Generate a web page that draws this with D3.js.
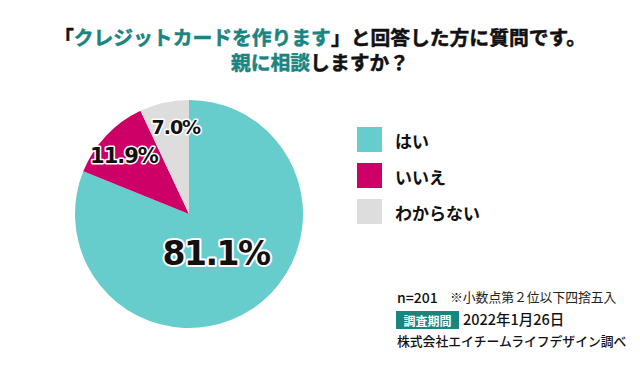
<!DOCTYPE html>
<html>
<head>
<meta charset="utf-8">
<script src="https://cdn.jsdelivr.net/npm/d3@7"></script>
<style>
  body { margin: 0; background: #fff; }
  svg { display: block; }
</style>
</head>
<body>
<svg id="chart" width="640" height="368"></svg>
<script>
`use strict`;

const labels = [`はい`, `いいえ`, `わからない`];
const values = [81.1, 11.9, 7.0];
const colors = [`#66cccc`, `#cc0066`, `#dddddd`];

const title1 = [[`「`, 0], [`クレジットカードを作ります`, 1], [`」と回答した方に質問です。`, 0]];
const title2 = [[`親に相談`, 1], [`しますか？`, 0]];

const notes = [`n=201`, `※小数点第２位以下四捨五入`, `調査期間`, `2022年1月26日`, `株式会社エイチームライフデザイン調べ`];

(function () {

  const jp = `"Noto Sans CJK JP", "Noto Sans", sans-serif`;
  const teal = `#1a8480`;

  let svg = d3.select(`#chart`);

  // title: one text, each line is its own centred chunk
  let title = svg.append(`text`)
    .attr(`text-anchor`, `middle`)
    .style(`font-family`, jp).style(`font-weight`, 700).style(`font-size`, `19.8px`)
    .attr(`stroke-width`, 0.5);

  [[title1, 45], [title2, 70]].forEach(line => {
    line[0].forEach((p, j) => {
      let c = p[1] ? teal : `#111`;
      let s = title.append(`tspan`)
        .attr(`fill`, c).attr(`stroke`, c)
        .text(p[0]);
      if (j === 0) s.attr(`x`, 320).attr(`y`, line[1]);
    });
  });

  // pie
  let data = labels.map((d, i) => ({label: d, value: values[i], color: colors[i]}));

  let pie = d3.pie().sort(null).value(d => d.value);
  let arc = d3.arc().innerRadius(0).outerRadius(114);

  let g = svg.append(`g`).attr(`transform`, `translate(189,214)`);

  let arcs = pie(data);

  g.selectAll(`path`).data(arcs)
    .enter()
    .append(`path`)
    .attr(`d`, arc)
    .attr(`fill`, d => d.data.color);

  // labels: positions along the slice bisector
  let lab = [
    {r: 52, size: 33, dx: 0, dy: 0},
    {r: 84, size: 21, dx: -4, dy: 0},
    {r: 88, size: 19, dx: 6, dy: -1}
  ];

  arcs.forEach((d, i) => {
    let a = (d.startAngle + d.endAngle) / 2;
    let x = Math.sin(a) * lab[i].r + lab[i].dx;
    let y = -Math.cos(a) * lab[i].r + lab[i].dy;
    if (i === 0) { x = 27; y = 39; }
    g.append(`text`)
      .attr(`x`, x).attr(`y`, y)
      .attr(`text-anchor`, `middle`)
      .attr(`dominant-baseline`, `central`)
      .style(`font-family`, `"DejaVu Sans", sans-serif`)
      .style(`font-weight`, 700)
      .style(`font-size`, lab[i].size + `px`)
      .style(`letter-spacing`, i === 0 ? `-1.5px` : `-1px`)
      .attr(`fill`, `#111`)
      .attr(`stroke`, `#fff`)
      .attr(`stroke-width`, i === 0 ? 4 : 3)
      .attr(`stroke-linejoin`, `round`)
      .attr(`paint-order`, `stroke`)
      .text(d.data.value.toFixed(1) + `%`);
  });

  // legend
  let legend = svg.append(`g`).attr(`transform`, `translate(357,127)`);

  let item = legend.selectAll(`g`).data(data)
    .enter()
    .append(`g`)
    .attr(`transform`, (d, i) => `translate(0,${i * 36})`);

  item.append(`rect`)
    .attr(`width`, 25).attr(`height`, 25)
    .attr(`fill`, d => d.color);

  item.append(`text`)
    .attr(`x`, 38).attr(`y`, 13)
    .attr(`dominant-baseline`, `central`)
    .style(`font-family`, jp).style(`font-weight`, 700).style(`font-size`, `17px`)
    .attr(`fill`, `#111`)
    .text(d => d.label);

  // notes
  svg.append(`text`)
    .attr(`x`, 397).attr(`y`, 303)
    .style(`font-family`, jp).style(`font-weight`, 500).style(`font-size`, `14px`)
    .attr(`fill`, `#111`)
    .text(notes[0]);

  svg.append(`text`)
    .attr(`x`, 450).attr(`y`, 302)
    .style(`font-family`, jp).style(`font-size`, `12.8px`)
    .attr(`fill`, `#222`)
    .text(notes[1]);

  svg.append(`rect`)
    .attr(`x`, 396).attr(`y`, 311).attr(`width`, 63).attr(`height`, 18)
    .attr(`fill`, teal);

  svg.append(`text`)
    .attr(`x`, 427.5).attr(`y`, 320)
    .attr(`text-anchor`, `middle`).attr(`dominant-baseline`, `central`)
    .style(`font-family`, jp).style(`font-weight`, 700).style(`font-size`, `12px`)
    .attr(`fill`, `#fff`)
    .text(notes[2]);

  svg.append(`text`)
    .attr(`x`, 463).attr(`y`, 325)
    .style(`font-family`, jp).style(`font-weight`, 500).style(`font-size`, `14.5px`)
    .attr(`fill`, `#111`)
    .text(notes[3]);

  svg.append(`text`)
    .attr(`x`, 397).attr(`y`, 346)
    .style(`font-family`, jp).style(`font-weight`, 500).style(`font-size`, `12.8px`)
    .attr(`fill`, `#111`)
    .text(notes[4]);

})();
</script>
</body>
</html>
